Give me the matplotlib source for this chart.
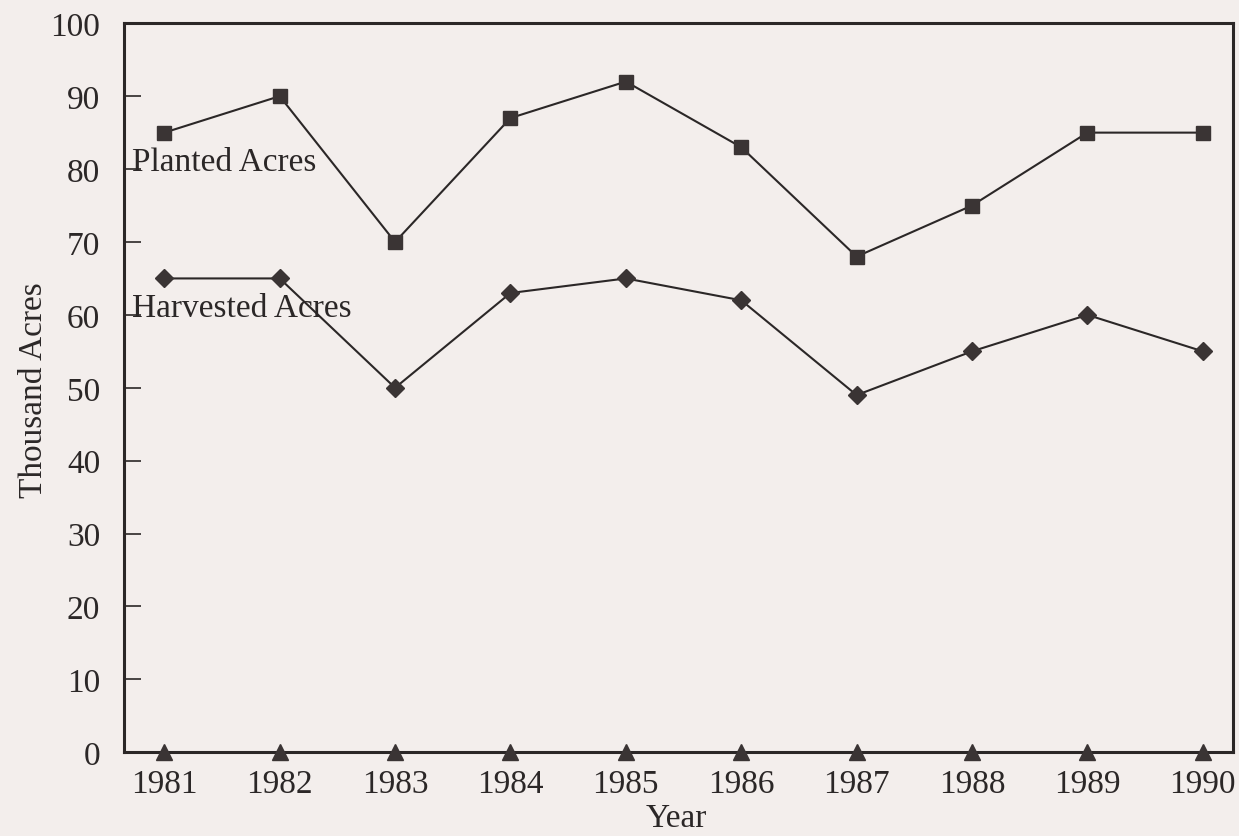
import numpy as np
import matplotlib.pyplot as plt

years = [1981, 1982, 1983, 1984, 1985, 1986, 1987, 1988, 1989, 1990]
planted = [85, 90, 70, 87, 92, 83, 68, 75, 85, 85]
harvested = [65, 65, 50, 63, 65, 62, 49, 55, 60, 55]
baseline = [0, 0, 0, 0, 0, 0, 0, 0, 0, 0]

ink = '#2b2727'
bg = '#f3eeec'

plt.rc('font', family='Liberation Serif', size=24)
fig = plt.figure(figsize=(12.39, 8.37), dpi=100, facecolor=bg)
axs = fig.add_axes([0.100, 0.100, 0.895, 0.871], facecolor=bg)

axs.plot(years, planted, color=ink, linewidth=1.5, marker='s', markersize=10, markerfacecolor='#3a3434', markeredgecolor='#3a3434')
axs.plot(years, harvested, color=ink, linewidth=1.5, marker='D', markersize=9, markerfacecolor='#3a3434', markeredgecolor='#3a3434')
axs.plot(years, baseline, linestyle='none', marker='^', markersize=11, markerfacecolor='#3a3434', markeredgecolor='#3a3434', clip_on=False, zorder=5)

axs.text(1980.72, 81, 'Planted Acres', ha='left', va='center', color=ink)
axs.text(1980.72, 61, 'Harvested Acres', ha='left', va='center', color=ink)

axs.set_xlim([1980.65, 1990.26])
axs.set_ylim([0, 100])
axs.set_yticks(np.arange(0, 101, 10))
axs.set_xticks(years)
axs.tick_params(axis='y', direction='in', length=12, width=1.2, color=ink, labelcolor=ink, pad=17)
axs.tick_params(axis='x', length=0, labelcolor=ink, pad=12)
for s in axs.spines.values():
    s.set_linewidth(2.2)
    s.set_color(ink)

fig.text(0.027, 0.534, 'Thousand Acres', rotation=90, ha='center', va='center', color=ink)
fig.text(0.546, 0.022, 'Year', ha='center', va='center', color=ink)

fig.savefig('out.png', dpi=100, facecolor=bg)
